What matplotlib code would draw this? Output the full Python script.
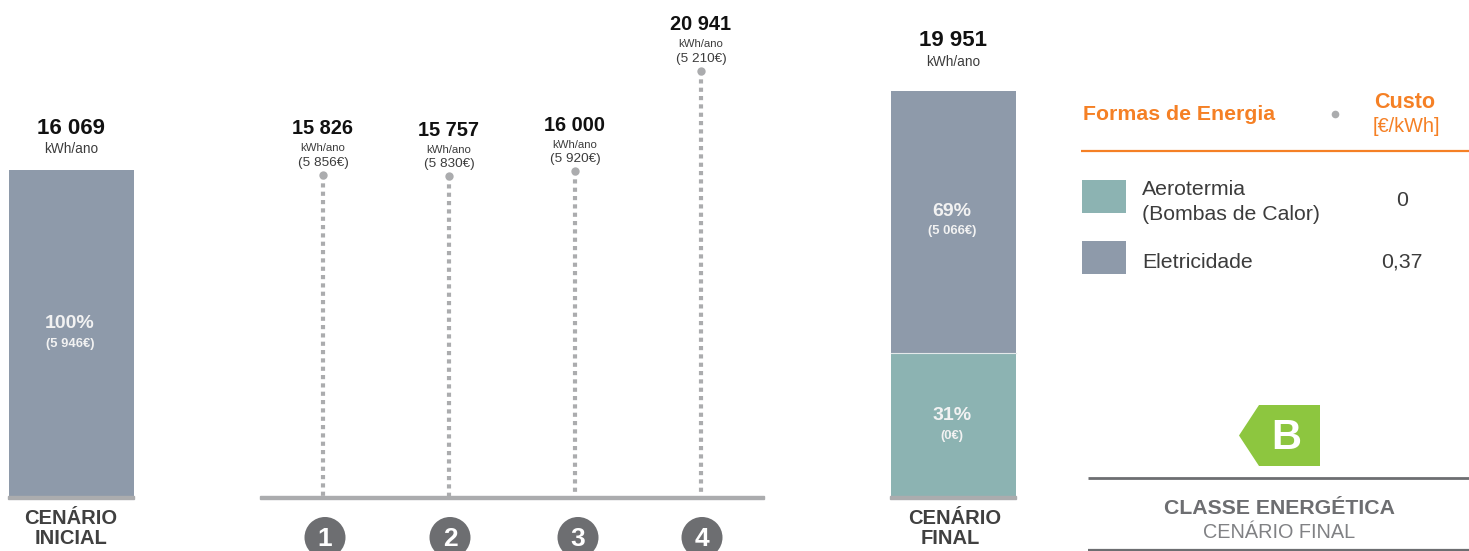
import matplotlib
matplotlib.use('Agg')
import matplotlib.pyplot as plt
from matplotlib.patches import Circle, Polygon, Rectangle

plt.rcParams['font.family'] = ['Liberation Sans', 'DejaVu Sans']

# data
initial_value = 16069
initial_total = '16 069'
initial_share = '100%'
initial_cost = '(5 946€)'

measure_ids = ['1', '2', '3', '4']
measure_values = [15826, 15757, 16000, 20941]
measure_totals = ['15 826', '15 757', '16 000', '20 941']
measure_costs = ['(5 856€)', '(5 830€)', '(5 920€)', '(5 210€)']

final_total = '19 951'
# drawn heights of the two parts, as they stand in the picture
final_segments = [7076, 12875]
final_shares = ['31%', '69%']
final_costs = ['(0€)', '(5 066€)']

energy_names = ['Aerotermia\n(Bombas de Calor)', 'Eletricidade']
energy_costs = ['0', '0,37']

TEAL = '#8cb3b2'
SLATE = '#8e9aaa'
GREY = '#abacae'
DARK = '#6d6e71'
ORANGE = '#f58025'
TEXT = '#3c3c3c'
W, H = 1469, 551
BASE = 497
PX_PER_KWH = 0.02035

fig = plt.figure(figsize=(W / 100, H / 100), dpi=100)

# value axes: x in pixels, y in kWh/ano, sits on the baseline
ax = fig.add_axes((0, 1 - BASE / H, 1, BASE / H))
ax.set_xlim(0, W)
ax.set_ylim(0, BASE / PX_PER_KWH)
ax.axis('off')

# overlay in pixel coordinates for the texts and the side panel
ov = fig.add_axes((0, 0, 1, 1))
ov.set_xlim(0, W)
ov.set_ylim(H, 0)
ov.axis('off')
ov.patch.set_alpha(0)


def label(x, y, s, size, color=TEXT, weight='normal', ha='center', **kw):
    # +2: centre of the digits, not of the line box
    ov.text(x, y + 2, s, fontsize=size, color=color, fontweight=weight, ha=ha,
            va='center', **kw)


# initial scenario
ax.bar(71.5, initial_value, width=125, color=SLATE)
ov.add_patch(Rectangle((8, BASE - 1.5), 126, 3, color=GREY))
label(71, 126, initial_total, 16, '#111111', 'bold')
label(71, 147, 'kWh/ano', 9.8)
label(70, 322, initial_share, 14, '#f2f2f2', 'bold')
label(70, 342, initial_cost, 9.4, '#f2f2f2', 'bold')
label(71, 517, 'CENÁRIO', 14.5, '#404040', 'bold')
label(71, 537, 'INICIAL', 14.5, '#404040', 'bold')

# measures
measure_x = [323, 449, 575, 701]
circle_x = [325, 450, 578, 702]
for x, cx, v, n, tot, cost in zip(measure_x, circle_x, measure_values,
                                  measure_ids, measure_totals, measure_costs):
    ax.plot([x, x], [v, 0], color=GREY, lw=3, ls=(0, (1.0, 1.0)),
            dash_capstyle='butt')
    ax.plot([x], [v], 'o', color=GREY, ms=6, mew=0, clip_on=False)
    top = BASE - v * PX_PER_KWH
    label(x, top - 48, tot, 14.4, '#111111', 'bold')
    label(x, top - 28.5, 'kWh/ano', 8.2)
    label(x, top - 14, cost, 9.7)
    ov.add_patch(Circle((cx, 537.5), 20.5, color=DARK, lw=0))
    label(cx, 537, n, 19, 'white', 'bold')
ov.add_patch(Rectangle((260, BASE - 1.5), 504, 3, color=GREY))

# final scenario
ax.bar(953.5, final_segments[0], width=125, color=TEAL)
ax.bar(953.5, final_segments[1], width=125, bottom=final_segments[0],
       color=SLATE, edgecolor='none')
ax.axhline(final_segments[0], xmin=891 / W, xmax=1016 / W, color='#e4e9ea', lw=0.8)
ov.add_patch(Rectangle((890, BASE - 1.5), 126, 3, color=GREY))
label(953, 39, final_total, 16, '#111111', 'bold')
label(953, 60, 'kWh/ano', 9.8)
label(952, 413, final_shares[0], 14, '#f2f2f2', 'bold')
label(952, 434, final_costs[0], 9.4, '#f2f2f2', 'bold')
label(952, 209, final_shares[1], 14, '#f2f2f2', 'bold')
label(952, 229, final_costs[1], 9.4, '#f2f2f2', 'bold')
label(955, 517, 'CENÁRIO', 14.5, '#404040', 'bold')
label(950, 537, 'FINAL', 14.5, '#404040', 'bold')

# energy table
label(1083, 113, 'Formas de Energia', 15.3, ORANGE, 'bold', ha='left')
ov.plot([1335], [114], 'o', color=GREY, ms=5.5, mew=0)
label(1405, 101, 'Custo', 15.5, ORANGE, 'bold')
label(1406, 125, '[€/kWh]', 14.3, ORANGE)
ov.plot([1081, 1469], [151, 151], color=ORANGE, lw=1.6, solid_capstyle='butt')

ov.add_patch(Rectangle((1082, 180), 44, 33, color=TEAL, lw=0))
ov.add_patch(Rectangle((1082, 241), 44, 33, color=SLATE, lw=0))
label(1142, 200, energy_names[0], 15.3, ha='left', linespacing=1.36)
label(1142, 261, energy_names[1], 15.3, ha='left')
label(1402, 199, energy_costs[0], 15.3, ha='center')
label(1402, 260, energy_costs[1], 15.3, ha='center')

# energy class badge
ov.add_patch(Polygon([(1259, 405), (1320, 405), (1320, 466), (1259, 466),
                      (1239, 435.5)], closed=True, color='#8dc63f', lw=0))
label(1286, 436, 'B', 30, 'white', 'bold')
ov.plot([1088, 1469], [477.5, 477.5], color=DARK, lw=2, solid_capstyle='butt')
label(1280, 506, 'CLASSE ENERGÉTICA', 15.3, DARK, 'bold')
label(1279, 530, 'CENÁRIO FINAL', 14.3, '#808184')
ov.plot([1088, 1469], [549.5, 549.5], color=DARK, lw=1.6, solid_capstyle='butt')

fig.savefig('out.png', dpi=100)
